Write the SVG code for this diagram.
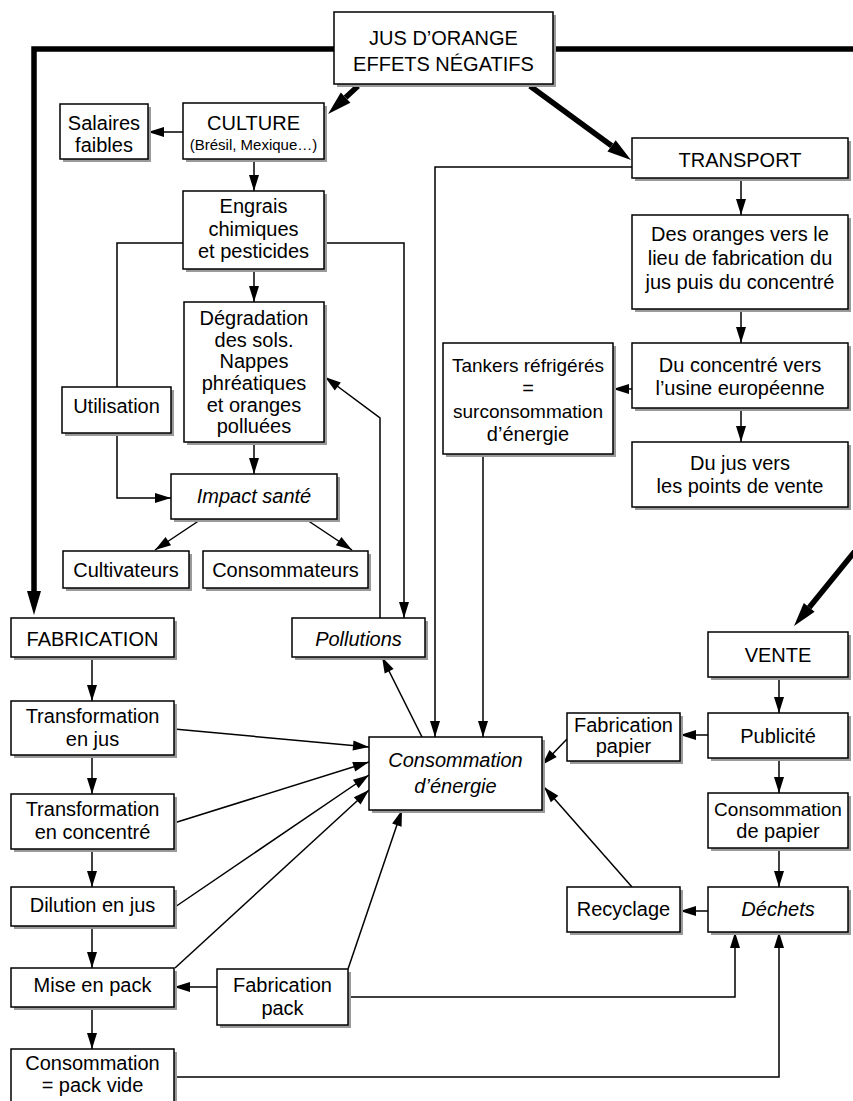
<svg xmlns="http://www.w3.org/2000/svg" width="853" height="1101" viewBox="0 0 853 1101">
<style>
.s{fill:#9a9a9a}
.f{fill:#fff;stroke:#000;stroke-width:1.5}
text{font-family:"Liberation Sans",Arial,sans-serif;font-size:20px;text-anchor:middle;fill:#000}
.i{font-style:italic}
.sm{font-size:15px}
.n19{font-size:19px}
.c path{fill:none;stroke:#000;stroke-width:1.5}
.c .a{marker-end:url(#ah)}
.c .t{stroke-width:5.5}
.c .ta{stroke-width:5.5;marker-end:url(#ah2)}
</style>
<defs>
<marker id="ah" markerUnits="userSpaceOnUse" markerWidth="16" markerHeight="10" refX="16" refY="5" orient="auto" overflow="visible"><path d="M0,0 L16,5 L0,10 z" fill="#000"/></marker>
<marker id="ah2" markerUnits="userSpaceOnUse" markerWidth="24" markerHeight="14" refX="0" refY="7" orient="auto" overflow="visible"><path d="M0,0 L24,7 L0,14 z" fill="#000"/></marker>
</defs>
<rect width="853" height="1101" fill="#fff"/>

<g id="connectors" class="c">
<path class="t" d="M334,49 H853"/>
<path class="ta" d="M334,49 H34 V591"/>
<path class="ta" d="M358,86 L345.6,97.6"/>
<path class="ta" d="M530,86 L611.6,145.8"/>
<path class="ta" d="M860,545 L809.2,607.4"/>
<path class="a" d="M183,132 H148"/>
<path class="a" d="M254,159 V191"/>
<path class="a" d="M254,269 V302"/>
<path d="M183,243 H117 V387"/>
<path class="a" d="M117,433 V498 H171"/>
<path class="a" d="M324,243 H404 V618"/>
<path class="a" d="M254,442 V474"/>
<path class="a" d="M200,520 L155,550"/>
<path class="a" d="M307,520 L352,550"/>
<path class="a" d="M380,618 V418 L325,377"/>
<path class="a" d="M92,657 V701"/>
<path class="a" d="M92,755 V794"/>
<path class="a" d="M92,849 V887"/>
<path class="a" d="M92,926 V968"/>
<path class="a" d="M92,1007 V1049"/>
<path class="a" d="M174,729 L369,747"/>
<path class="a" d="M174,823 L369,762"/>
<path class="a" d="M175,907 L369,775"/>
<path class="a" d="M175,968 L369,790"/>
<path class="a" d="M348,969 L402,810"/>
<path class="a" d="M217,987 H174"/>
<path class="a" d="M348,997 H735 V932"/>
<path class="a" d="M174,1077 H779 V932"/>
<path class="a" d="M422,737 L382,657"/>
<path class="a" d="M632,167 H435 V737"/>
<path class="a" d="M483,454 V737"/>
<path class="a" d="M741,178 V215"/>
<path class="a" d="M741,309 V343"/>
<path class="a" d="M741,408 V442"/>
<path class="a" d="M632,389 H613"/>
<path class="a" d="M779,677 V713"/>
<path class="a" d="M708,735 H680"/>
<path class="a" d="M779,758 V793"/>
<path class="a" d="M779,848 V887"/>
<path class="a" d="M567,739 L542,765"/>
<path class="a" d="M708,911 H680"/>
<path class="a" d="M632,887 L544,787"/>
</g>

<g id="n-titre"><rect class="s" x="337" y="15" width="219" height="72"/><rect class="f" x="334" y="12" width="219" height="72"/><text x="443.5" y="45">JUS D’ORANGE</text><text x="443.5" y="71">EFFETS NÉGATIFS</text></g>
<g id="n-culture"><rect class="s" x="186" y="106" width="141" height="56"/><rect class="f" x="183" y="103" width="141" height="56"/><text x="253.5" y="130">CULTURE</text><text class="sm" x="253.5" y="150">(Brésil, Mexique…)</text></g>
<g id="n-salaires"><rect class="s" x="63" y="107" width="88" height="55"/><rect class="f" x="60" y="104" width="88" height="55"/><text x="104" y="130">Salaires</text><text x="104" y="152">faibles</text></g>
<g id="n-engrais"><rect class="s" x="186" y="194" width="141" height="78"/><rect class="f" x="183" y="191" width="141" height="78"/><text x="253.5" y="213">Engrais</text><text x="253.5" y="236">chimiques</text><text x="253.5" y="258">et pesticides</text></g>
<g id="n-degradation"><rect class="s" x="187" y="305" width="140" height="140"/><rect class="f" x="184" y="302" width="140" height="140"/><text x="254" y="325">Dégradation</text><text x="254" y="347">des sols.</text><text x="254" y="368">Nappes</text><text x="254" y="390">phréatiques</text><text x="254" y="412">et oranges</text><text x="254" y="433">polluées</text></g>
<g id="n-utilisation"><rect class="s" x="65" y="390" width="109" height="46"/><rect class="f" x="62" y="387" width="109" height="46"/><text x="116.5" y="413">Utilisation</text></g>
<g id="n-impact"><rect class="s" x="174" y="477" width="166" height="45"/><rect class="f" x="171" y="474" width="166" height="45"/><text class="i" x="254" y="503">Impact santé</text></g>
<g id="n-cultivateurs"><rect class="s" x="66" y="554" width="126" height="37"/><rect class="f" x="63" y="551" width="126" height="37"/><text x="126" y="577">Cultivateurs</text></g>
<g id="n-consommateurs"><rect class="s" x="206" y="554" width="165" height="37"/><rect class="f" x="203" y="551" width="165" height="37"/><text x="285.5" y="577">Consommateurs</text></g>
<g id="n-fabrication"><rect class="s" x="14" y="621" width="163" height="39"/><rect class="f" x="11" y="618" width="163" height="39"/><text x="92.5" y="646">FABRICATION</text></g>
<g id="n-pollutions"><rect class="s" x="295" y="621" width="133" height="39"/><rect class="f" x="292" y="618" width="133" height="39"/><text class="i" x="358.5" y="646">Pollutions</text></g>
<g id="n-transfo-jus"><rect class="s" x="14" y="704" width="163" height="54"/><rect class="f" x="11" y="701" width="163" height="54"/><text x="92.5" y="723">Transformation</text><text x="92.5" y="746">en jus</text></g>
<g id="n-transfo-conc"><rect class="s" x="14" y="797" width="163" height="55"/><rect class="f" x="11" y="794" width="163" height="55"/><text x="92.5" y="816">Transformation</text><text x="92.5" y="839">en concentré</text></g>
<g id="n-dilution"><rect class="s" x="14" y="890" width="163" height="39"/><rect class="f" x="11" y="887" width="163" height="39"/><text x="92.5" y="912">Dilution en jus</text></g>
<g id="n-mise-pack"><rect class="s" x="14" y="971" width="163" height="39"/><rect class="f" x="11" y="968" width="163" height="39"/><text x="92.5" y="992">Mise en pack</text></g>
<g id="n-fab-pack"><rect class="s" x="220" y="972" width="131" height="56"/><rect class="f" x="217" y="969" width="131" height="56"/><text x="282.5" y="992">Fabrication</text><text x="282.5" y="1015">pack</text></g>
<g id="n-pack-vide"><rect class="s" x="14" y="1052" width="163" height="61"/><rect class="f" x="11" y="1049" width="163" height="61"/><text x="92.5" y="1070">Consommation</text><text x="92.5" y="1092">= pack vide</text></g>
<g id="n-energie"><rect class="s" x="372" y="740" width="173" height="73"/><rect class="f" x="369" y="737" width="173" height="73"/><text class="i" x="455.5" y="767">Consommation</text><text class="i" x="455.5" y="793">d’énergie</text></g>
<g id="n-fab-papier"><rect class="s" x="570" y="716" width="113" height="48"/><rect class="f" x="567" y="713" width="113" height="48"/><text x="623.5" y="732">Fabrication</text><text x="623.5" y="753">papier</text></g>
<g id="n-publicite"><rect class="s" x="711" y="716" width="140" height="45"/><rect class="f" x="708" y="713" width="140" height="45"/><text x="778" y="743">Publicité</text></g>
<g id="n-vente"><rect class="s" x="711" y="635" width="140" height="45"/><rect class="f" x="708" y="632" width="140" height="45"/><text x="778" y="662">VENTE</text></g>
<g id="n-conso-papier"><rect class="s" x="711" y="796" width="140" height="55"/><rect class="f" x="708" y="793" width="140" height="55"/><text class="n19" x="778" y="816">Consommation</text><text x="778" y="838">de papier</text></g>
<g id="n-recyclage"><rect class="s" x="570" y="890" width="113" height="45"/><rect class="f" x="567" y="887" width="113" height="45"/><text x="623.5" y="916">Recyclage</text></g>
<g id="n-dechets"><rect class="s" x="711" y="890" width="140" height="45"/><rect class="f" x="708" y="887" width="140" height="45"/><text class="i" x="778" y="916">Déchets</text></g>
<g id="n-transport"><rect class="s" x="635" y="141" width="216" height="40"/><rect class="f" x="632" y="138" width="216" height="40"/><text x="740" y="167">TRANSPORT</text></g>
<g id="n-oranges"><rect class="s" x="635" y="218" width="216" height="94"/><rect class="f" x="632" y="215" width="216" height="94"/><text x="740" y="241">Des oranges vers le</text><text x="740" y="265">lieu de fabrication du</text><text x="740" y="289">jus puis du concentré</text></g>
<g id="n-concentre"><rect class="s" x="635" y="346" width="216" height="65"/><rect class="f" x="632" y="343" width="216" height="65"/><text x="740" y="372">Du concentré vers</text><text x="740" y="395">l’usine européenne</text></g>
<g id="n-tankers"><rect class="s" x="446" y="346" width="170" height="111"/><rect class="f" x="443" y="343" width="170" height="111"/><text class="n19" x="528" y="372">Tankers réfrigérés</text><text x="528" y="395">=</text><text class="n19" x="528" y="418">surconsommation</text><text x="528" y="441">d’énergie</text></g>
<g id="n-jus-vente"><rect class="s" x="635" y="445" width="216" height="65"/><rect class="f" x="632" y="442" width="216" height="65"/><text x="740" y="470">Du jus vers</text><text x="740" y="493">les points de vente</text></g>
</svg>
